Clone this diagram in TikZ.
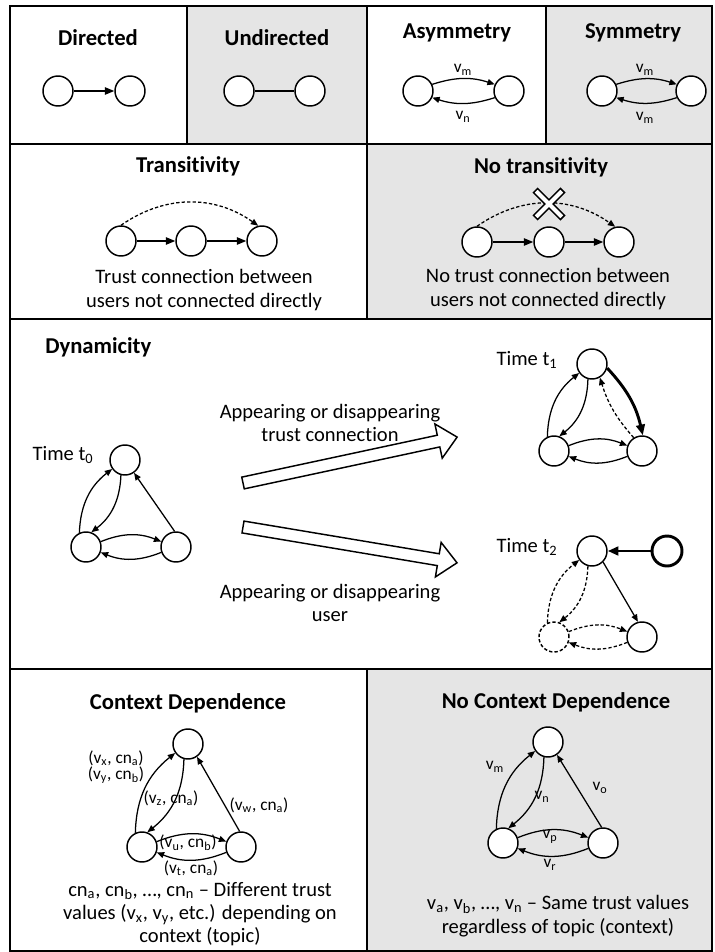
\documentclass[tikz,border=0pt]{standalone}
\usepackage{fontspec}
\setmainfont{Carlito}[Ligatures={NoCommon,NoContextual,NoRare}]
\usetikzlibrary{arrows.meta}
\begin{document}
\begin{tikzpicture}[x=0.75pt,y=0.75pt]
\tikzset{
 usr/.style={circle,draw,line width=1.1pt,minimum size=22.5pt,inner sep=0pt,fill=white},
 edg/.style={line width=0.95pt,-{Triangle[length=5.5pt,width=4.5pt]}},
 bigedg/.style={line width=1pt,-{Triangle[length=7pt,width=5.5pt]}},
 thickedg/.style={line width=2.2pt,-{Triangle[length=8pt,width=6.5pt]}},
 dsh/.style={dash pattern=on 2.5pt off 1.6pt},
 ttl/.style={font=\fontsize{17}{20}\selectfont\bfseries},
 txt/.style={font=\fontsize{15.4}{17.5}\selectfont,align=center},
 lbl/.style={font=\fontsize{13}{14.5}\selectfont,inner sep=1pt},
 frm/.style={line width=1.5pt},
 blockarrow/.style={draw,line width=1.1pt,fill=white,line join=miter},
}
\useasboundingbox (0,0) rectangle (714,-952);
% backgrounds
\fill[black!10] (187,-6) rectangle (367,-144);
\fill[black!10] (546,-6) rectangle (712,-144);
\fill[black!10] (367,-144) rectangle (712,-319);
\fill[black!10] (367,-669) rectangle (712,-951);
% frame
\draw[frm] (10,-6) rectangle (712,-951);
\draw[frm] (10,-144) -- (712,-144);
\draw[frm] (10,-319) -- (712,-319);
\draw[frm] (10,-669) -- (712,-669);
\draw[frm] (187,-6) -- (187,-144);
\draw[frm] (367,-6) -- (367,-319);
\draw[frm] (546,-6) -- (546,-144);
\draw[frm] (367,-669) -- (367,-951);

% ---------- Row 1 ----------
\node[ttl] (tdir) at (98,-38) {Directed};
\node[usr] (d1) at (58,-91) {};
\node[usr] (d2) at (130,-91) {};
\draw[bigedg] (d1) -- (d2);

\node[ttl] (tund) at (277,-38) {Undirected};
\node[usr] (u1) at (239,-91) {};
\node[usr] (u2) at (310,-91) {};
\draw[line width=1pt] (u1) -- (u2);

\node[ttl] (tasy) at (457,-33) {Asymmetry};
\node[usr] (a1) at (418,-91) {};
\node[usr] (a2) at (509,-91) {};
\draw[edg] (a1.25) to[bend left=18] (a2.155);
\draw[edg] (a2.205) to[bend left=18] (a1.335);
\node[lbl] (avm) at (463,-70) {v\textsubscript{m}};
\node[lbl] (avn) at (463,-117) {v\textsubscript{n}};

\node[ttl] (tsym) at (633,-33) {Symmetry};
\node[usr] (s1) at (602,-91) {};
\node[usr] (s2) at (691,-91) {};
\draw[edg] (s1.25) to[bend left=18] (s2.155);
\draw[edg] (s2.205) to[bend left=18] (s1.335);
\node[lbl] (svm) at (645,-70) {v\textsubscript{m}};
\node[lbl] (svn) at (645,-118) {v\textsubscript{m}};

% ---------- Row 2 ----------
\node[ttl] (ttra) at (188,-166) {Transitivity};
\node[usr] (tr1) at (121,-241) {};
\node[usr] (tr2) at (191,-241) {};
\node[usr] (tr3) at (262,-241) {};
\draw[bigedg] (tr1) -- (tr2);
\draw[bigedg] (tr2) -- (tr3);
\draw[edg,dsh] (tr1.90) to[bend left=35] (tr3.104);
\node[txt] (ttratext) at (204,-290) {Trust connection between\\users not connected directly};

\node[ttl] (tntr) at (541,-167) {No transitivity};
\node[usr] (nr1) at (477,-242) {};
\node[usr] (nr2) at (549,-242) {};
\node[usr] (nr3) at (619,-242) {};
\draw[bigedg] (nr1) -- (nr2);
\draw[bigedg] (nr2) -- (nr3);
\draw[edg,dsh] (nr1.90) to[bend left=35] (nr3.104);
\draw[line width=5.5pt] (535,-190) -- (563,-218);
\draw[line width=5.5pt] (535,-218) -- (563,-190);
\draw[white,line width=3pt,shorten <=1.3pt,shorten >=1.3pt] (535,-190) -- (563,-218);
\draw[white,line width=3pt,shorten <=1.3pt,shorten >=1.3pt] (535,-218) -- (563,-190);
\node[txt] (tntrtext) at (548,-289) {No trust connection between\\users not connected directly};

% ---------- Row 3 ----------
\node[ttl,anchor=west,inner sep=0pt] (tdyn) at (45,-347) {Dynamicity};
\node[txt] (time0) at (63,-455) {Time t\textsubscript{0}};
\node[usr] (z0T) at (125,-460) {};
\node[usr] (z0L) at (86,-547) {};
\node[usr] (z0R) at (176,-547) {};
\draw[edg] (z0L.115) to[bend left=25] (z0T.215);
\draw[edg] (z0T.255) to[bend left=25] (z0L.70);
\draw[edg] (z0L.20) to[bend left=22] (z0R.160);
\draw[edg] (z0R.200) to[bend left=22] (z0L.340);
\draw[edg] (z0R.95) -- (z0T.305);

\begin{scope}[shift={(243,-483)},rotate=12.1]
\draw[blockarrow] (0,6) -- (200,6) -- (200,17.5) -- (219,0) -- (200,-17.5) -- (200,-6) -- (0,-6) -- cycle;
\end{scope}
\begin{scope}[shift={(243,-527)},rotate=-9.5]
\draw[blockarrow] (0,6) -- (198,6) -- (198,17.5) -- (217,0) -- (198,-17.5) -- (198,-6) -- (0,-6) -- cycle;
\end{scope}
\node[txt] (dyn1) at (330,-423) {Appearing or disappearing\\trust connection};
\node[txt] (dyn2) at (330,-603) {Appearing or disappearing\\user};

\node[txt] (time1) at (527,-360) {Time t\textsubscript{1}};
\node[usr] (z1T) at (592,-364) {};
\node[usr] (z1L) at (554,-451) {};
\node[usr] (z1R) at (642,-451) {};
\draw[edg] (z1L.115) to[bend left=25] (z1T.215);
\draw[edg] (z1T.255) to[bend left=25] (z1L.70);
\draw[edg] (z1L.20) to[bend left=22] (z1R.160);
\draw[edg] (z1R.200) to[bend left=22] (z1L.340);
\draw[thickedg] (z1T.345) to[bend left=15] (z1R.87);
\draw[edg,dsh] (z1R.122) to[bend left=12] (z1T.300);

\node[txt] (time2) at (527,-547) {Time t\textsubscript{2}};
\node[usr] (z2T) at (592,-551) {};
\node[usr,line width=2.2pt] (z2X) at (667,-551) {};
\node[usr,dsh] (z2L) at (554,-637) {};
\node[usr] (z2R) at (642,-637) {};
\draw[thickedg] (z2X) -- (z2T);
\draw[edg] (z2T.315) -- (z2R.105);
\draw[edg,dsh] (z2L.115) to[bend left=25] (z2T.215);
\draw[edg,dsh] (z2T.255) to[bend left=25] (z2L.70);
\draw[edg,dsh] (z2L.20) to[bend left=22] (z2R.160);
\draw[edg,dsh] (z2R.200) to[bend left=22] (z2L.340);

% ---------- Row 4 ----------
\node[ttl] (tctx) at (188,-703) {Context Dependence};
\node[usr] (cT) at (188,-744) {};
\node[usr] (cL) at (142,-847) {};
\node[usr] (cR) at (241,-847) {};
\draw[edg] (cL.115) to[bend left=25] (cT.215);
\draw[edg] (cT.255) to[bend left=25] (cL.70);
\draw[edg] (cL.20) to[bend left=22] (cR.160);
\draw[edg] (cR.200) to[bend left=22] (cL.340);
\draw[edg] (cR.95) -- (cT.305);
\node[lbl] (cl1) at (116,-758) {(v\textsubscript{x}, cn\textsubscript{a})};
\node[lbl] (cl2) at (116,-775) {(v\textsubscript{y}, cn\textsubscript{b})};
\node[lbl] (cl3) at (171,-798) {(v\textsubscript{z}, cn\textsubscript{a})};
\node[lbl] (cl4) at (259,-805) {(v\textsubscript{w}, cn\textsubscript{a})};
\node[lbl] (cl5) at (188,-843) {(v\textsubscript{u}, cn\textsubscript{b})};
\node[lbl] (cl6) at (191,-868) {(v\textsubscript{t}, cn\textsubscript{a})};
\node[txt] (ctxtext) at (200,-914) {cn\textsubscript{a}, cn\textsubscript{b}, …, cn\textsubscript{n} – Different trust\\values (v\textsubscript{x}, v\textsubscript{y}, etc.) depending on\\context (topic)};

\node[ttl] (tnctx) at (556,-702) {No Context Dependence};
\node[usr] (nT) at (548,-742) {};
\node[usr] (nL) at (503,-843) {};
\node[usr] (nR) at (603,-843) {};
\draw[edg] (nL.115) to[bend left=25] (nT.215);
\draw[edg] (nT.255) to[bend left=25] (nL.70);
\draw[edg] (nL.20) to[bend left=22] (nR.160);
\draw[edg] (nR.200) to[bend left=22] (nL.340);
\draw[edg] (nR.95) -- (nT.305);
\node[lbl] (nl1) at (495,-767) {v\textsubscript{m}};
\node[lbl] (nl2) at (542,-797) {v\textsubscript{n}};
\node[lbl] (nl3) at (600,-788) {v\textsubscript{o}};
\node[lbl] (nl4) at (550,-837) {v\textsubscript{p}};
\node[lbl] (nl5) at (550,-865) {v\textsubscript{r}};
\node[txt] (nctxtext) at (558,-916) {v\textsubscript{a}, v\textsubscript{b}, …, v\textsubscript{n} – Same trust values\\regardless of topic (context)};
\end{tikzpicture}
\end{document}
